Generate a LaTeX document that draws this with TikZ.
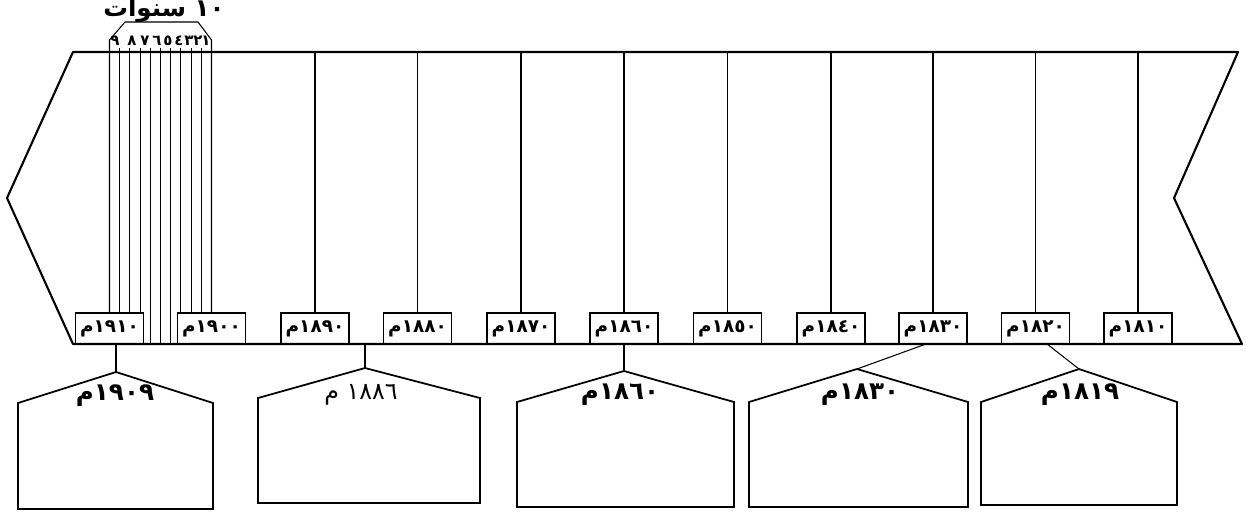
\documentclass[tikz,border=0pt]{standalone}
\usepackage{fontspec}
\usepackage{tikz}
\newfontfamily\arabicfont[Script=Arabic]{DejaVu Sans}
\TeXXeTstate=1
\newcommand{\artxt}[1]{{\arabicfont\beginR #1\endR}}

\begin{document}
\begin{tikzpicture}[x=0.02cm,y=-0.02cm,font=\arabicfont\bfseries\fontsize{10.5}{12}\selectfont,
  yr/.style={draw,line width=0.9pt,minimum width=1.36cm,minimum height=0.62cm,inner sep=0pt},
  hut/.style={draw,line width=1pt},
  tick/.style={line width=0.6pt},
  big/.style={font=\arabicfont\bfseries\fontsize{14}{16}\selectfont},
  thin/.style={font=\arabicfont\mdseries\fontsize{13.5}{15}\selectfont},
  tiny/.style={font=\arabicfont\bfseries\fontsize{8.5}{9}\selectfont,inner sep=0pt}]
\useasboundingbox (0,0) rectangle (1246,515);
\coordinate (tl) at (73,52); \coordinate (bl) at (73,344);
\node[yr] (y1910) at (109.5,328.5){\artxt{١٩١٠م}}; \node[yr] (y1900) at (211.5,328.5){\artxt{١٩٠٠م}};
\node[yr] (y1890) at (315,328.5){\artxt{١٨٩٠م}}; \node[yr] (y1880) at (417.5,328.5){\artxt{١٨٨٠م}};
\node[yr] (y1870) at (521,328.5){\artxt{١٨٧٠م}}; \node[yr] (y1860) at (624,328.5){\artxt{١٨٦٠م}};
\node[yr] (y1850) at (727.5,328.5){\artxt{١٨٥٠م}}; \node[yr] (y1840) at (831,328.5){\artxt{١٨٤٠م}};
\node[yr] (y1830) at (933,328.5){\artxt{١٨٣٠م}}; \node[yr] (y1820) at (1035.5,328.5){\artxt{١٨٢٠م}};
\node[yr] (y1810) at (1138,328.5){\artxt{١٨١٠م}};
\draw[line width=1.2pt,line join=round] (tl) -- (1238,52) -- (1174,198) -- (1242,344) -- (bl) -- (7,198) -- cycle;
\draw[tick] (y1890.north) -- (y1890.north |- tl); \draw[tick] (y1880.north) -- (y1880.north |- tl); \draw[tick] (y1870.north) -- (y1870.north |- tl);
\draw[tick] (y1860.north) -- (y1860.north |- tl); \draw[tick] (y1850.north) -- (y1850.north |- tl); \draw[tick] (y1840.north) -- (y1840.north |- tl);
\draw[tick] (y1830.north) -- (y1830.north |- tl); \draw[tick] (y1820.north) -- (y1820.north |- tl); \draw[tick] (y1810.north) -- (y1810.north |- tl);
\draw[tick] (y1910.north) -- (109.5,40) -- (125,22) -- (198,22) -- (211.5,40) -- (y1900.north);
\draw[tick] (119.7,48) -- (119.7,313); \draw[tick] (129.9,48) -- (129.9,313); \draw[tick] (140.1,48) -- (140.1,313);
\draw[tick] (150.3,48) -- (150.3,344); \draw[tick] (160.5,48) -- (160.5,344); \draw[tick] (170.7,48) -- (170.7,344);
\draw[tick] (180.9,48) -- (180.9,313); \draw[tick] (191.1,48) -- (191.1,313); \draw[tick] (201.3,48) -- (201.3,313);
\node[tiny] (d1) at (206,41){\artxt{١}}; \node[tiny] (d2) at (198,41){\artxt{٢}}; \node[tiny] (d3) at (189,41){\artxt{٣}};
\node[tiny] (d4) at (179,41){\artxt{٤}}; \node[tiny] (d5) at (168,41){\artxt{٥}}; \node[tiny] (d6) at (157,41){\artxt{٦}};
\node[tiny] (d7) at (145,41){\artxt{٧}}; \node[tiny] (d8) at (132,41){\artxt{٨}}; \node[tiny] (d9) at (115,41){\artxt{٩}};
\node[big,inner sep=1pt] (tenyears) at (164,10){\artxt{١٠ سنوات}};
\coordinate (s1909) at (116,344); \coordinate (h1909) at (116,372);
\coordinate (s1886) at (365,344); \coordinate (h1886) at (365,368);
\coordinate (s1860) at (624,344); \coordinate (h1860) at (624,371);
\coordinate (s1830) at (926,344); \coordinate (h1830) at (857,369);
\coordinate (s1819) at (1047,344); \coordinate (h1819) at (1079,369);
\draw[hut] (18,509) -- (18,403) -- (h1909) -- (213,403) -- (213,509) -- cycle;
\draw[hut] (258,503) -- (258,398) -- (h1886) -- (480,398) -- (480,503) -- cycle;
\draw[hut] (517,507) -- (517,402) -- (h1860) -- (734,402) -- (734,507) -- cycle;
\draw[hut] (749,507) -- (749,402) -- (h1830) -- (968,402) -- (968,507) -- cycle;
\draw[hut] (981,505) -- (981,402) -- (h1819) -- (1177,402) -- (1177,505) -- cycle;
\draw[tick] (s1909) -- (h1909); \draw[tick] (s1886) -- (h1886); \draw[tick] (s1860) -- (h1860);
\draw[tick] (s1830) -- (h1830); \draw[tick] (s1819) -- (h1819);
\node[big] (l1909) at (115,396){\artxt{١٩٠٩م}}; \node[thin] (l1886) at (361,395){\artxt{١٨٨٦ م}};
\node[big] (l1860) at (620,395){\artxt{١٨٦٠م}}; \node[big] (l1830) at (860,395){\artxt{١٨٣٠م}};
\node[big] (l1819) at (1080,395){\artxt{١٨١٩م}};
\end{tikzpicture}
\end{document}
